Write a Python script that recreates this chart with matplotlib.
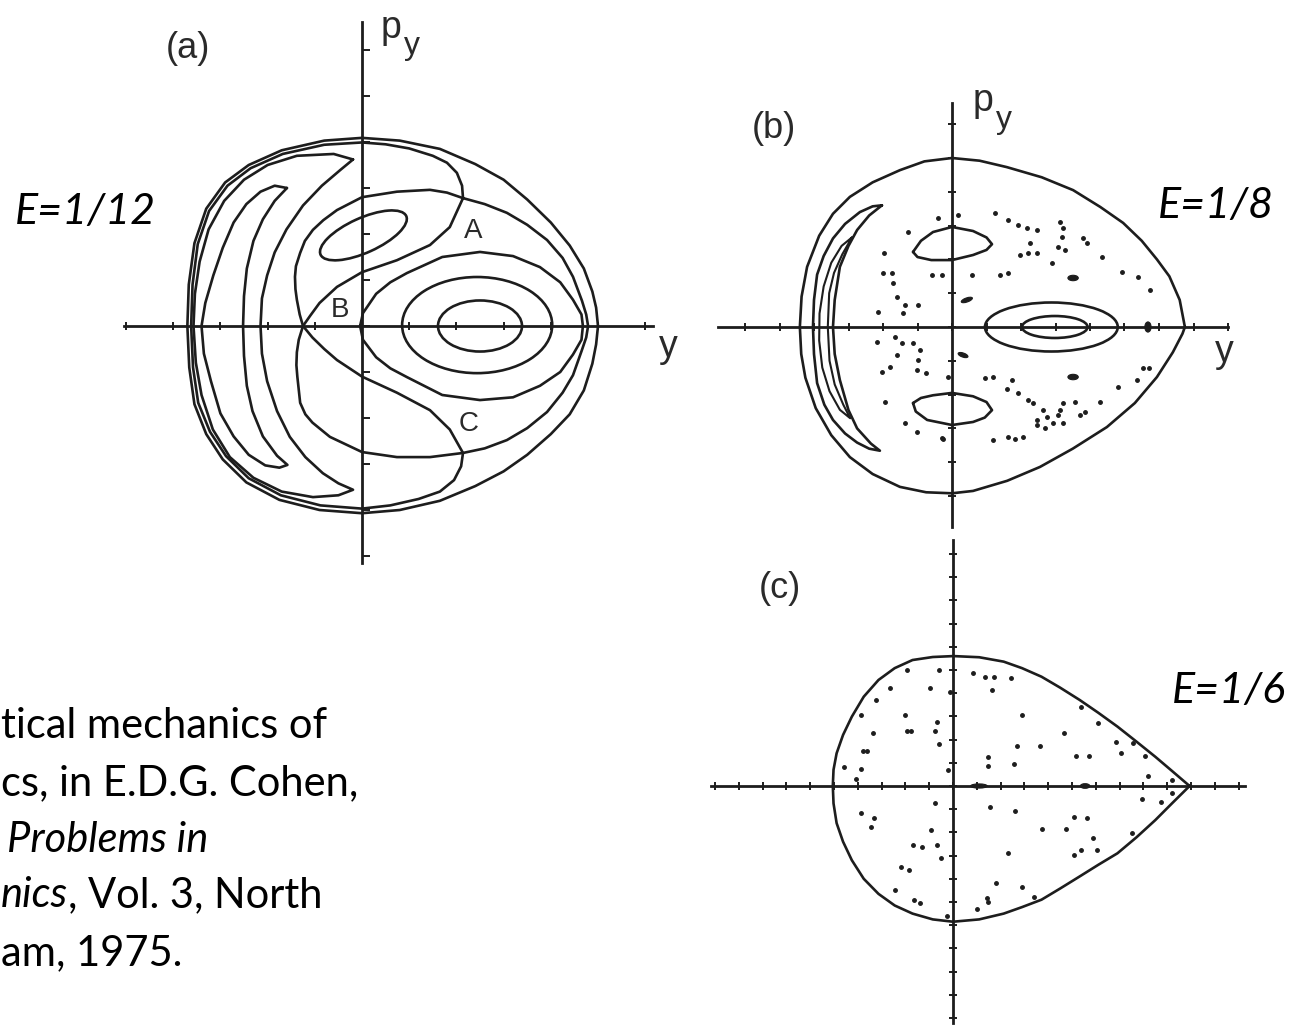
import numpy as np
import matplotlib.pyplot as plt
from matplotlib.patches import Ellipse

W, H = 1292, 1026
INK = '#1d1d1d'

# ---------------- (a)  E = 1/12 ----------------
a_boundary = [(0.500, 0.000), (0.496, 0.040), (0.488, 0.075), (0.470, 0.125), (0.440, 0.175),
              (0.400, 0.225), (0.350, 0.275), (0.300, 0.318), (0.240, 0.352), (0.165, 0.385),
              (0.080, 0.403), (0.000, 0.409), (-0.080, 0.403), (-0.170, 0.382), (-0.240, 0.350),
              (-0.290, 0.312), (-0.330, 0.255), (-0.355, 0.180), (-0.367, 0.090), (-0.370, 0.000),
              (-0.366, -0.090), (-0.355, -0.170), (-0.330, -0.235), (-0.295, -0.290), (-0.245, -0.340),
              (-0.175, -0.378), (-0.090, -0.400), (0.000, -0.407), (0.080, -0.400), (0.165, -0.380),
              (0.240, -0.348), (0.300, -0.316), (0.350, -0.280), (0.400, -0.235), (0.440, -0.192),
              (0.470, -0.140), (0.488, -0.082), (0.496, -0.040)]
# separatrix loop A -> top -> left -> bottom -> C -> right -> A
a_loop = [(0.214, 0.278), (0.212, 0.305), (0.201, 0.333), (0.180, 0.355), (0.150, 0.370),
          (0.100, 0.386), (0.050, 0.395), (0.000, 0.399), (-0.080, 0.394), (-0.168, 0.374),
          (-0.236, 0.343), (-0.285, 0.305), (-0.324, 0.250), (-0.348, 0.178), (-0.359, 0.090),
          (-0.362, 0.000), (-0.358, -0.090), (-0.347, -0.167), (-0.322, -0.230), (-0.288, -0.283),
          (-0.240, -0.331), (-0.172, -0.368), (-0.088, -0.390), (0.000, -0.397), (0.060, -0.390),
          (0.120, -0.376), (0.165, -0.360), (0.195, -0.335), (0.210, -0.305), (0.214, -0.276),
          (0.260, -0.266), (0.307, -0.248), (0.350, -0.222), (0.392, -0.187), (0.425, -0.145),
          (0.447, -0.107), (0.465, -0.055), (0.475, -0.025), (0.479, 0.000), (0.475, 0.025),
          (0.466, 0.055), (0.447, 0.107), (0.425, 0.148), (0.392, 0.187), (0.350, 0.220),
          (0.307, 0.246), (0.260, 0.265)]
a_crescent_outer = [(-0.019, 0.362), (-0.060, 0.374), (-0.138, 0.370), (-0.200, 0.350), (-0.250, 0.318),
                    (-0.292, 0.272), (-0.325, 0.210), (-0.344, 0.140), (-0.354, 0.070), (-0.357, 0.000),
                    (-0.352, -0.080), (-0.340, -0.150), (-0.316, -0.225), (-0.280, -0.285), (-0.230, -0.330),
                    (-0.170, -0.360), (-0.104, -0.372), (-0.050, -0.368), (-0.019, -0.356), (-0.050, -0.342),
                    (-0.083, -0.320), (-0.120, -0.285), (-0.153, -0.241), (-0.180, -0.185), (-0.201, -0.120),
                    (-0.212, -0.060), (-0.215, 0.000), (-0.212, 0.060), (-0.201, 0.110), (-0.185, 0.160),
                    (-0.160, 0.210), (-0.125, 0.262), (-0.085, 0.305), (-0.045, 0.340)]
a_crescent_inner = [(-0.159, 0.300), (-0.185, 0.305), (-0.215, 0.292), (-0.245, 0.265), (-0.272, 0.225),
                    (-0.295, 0.170), (-0.315, 0.110), (-0.332, 0.050), (-0.340, 0.000), (-0.335, -0.060),
                    (-0.320, -0.120), (-0.300, -0.190), (-0.272, -0.240), (-0.240, -0.280), (-0.205, -0.303),
                    (-0.175, -0.308), (-0.158, -0.302), (-0.180, -0.282), (-0.210, -0.240), (-0.232, -0.185),
                    (-0.244, -0.130), (-0.250, -0.065), (-0.252, 0.000), (-0.250, 0.065), (-0.244, 0.125),
                    (-0.230, 0.185), (-0.210, 0.232), (-0.185, 0.272)]
# two branches A -> B -> C crossing at B
a_branch_1 = [(0.214, 0.278), (0.180, 0.290), (0.144, 0.296), (0.074, 0.292), (0.000, 0.280),
              (-0.053, 0.252), (-0.082, 0.230), (-0.104, 0.209), (-0.121, 0.185), (-0.131, 0.159),
              (-0.140, 0.130), (-0.142, 0.107), (-0.141, 0.080), (-0.138, 0.057), (-0.132, 0.025),
              (-0.125, 0.000), (-0.105, -0.025), (-0.080, -0.050), (-0.053, -0.074), (0.000, -0.110),
              (0.074, -0.145), (0.144, -0.183), (0.186, -0.225), (0.214, -0.276)]
a_branch_2 = [(0.214, 0.278), (0.186, 0.215), (0.144, 0.176), (0.074, 0.143), (0.000, 0.117),
              (-0.053, 0.085), (-0.090, 0.050), (-0.110, 0.022), (-0.125, 0.000), (-0.134, -0.030),
              (-0.138, -0.057), (-0.139, -0.085), (-0.137, -0.110), (-0.131, -0.167), (-0.120, -0.192),
              (-0.105, -0.210), (-0.068, -0.241), (0.000, -0.274), (0.074, -0.285), (0.144, -0.285),
              (0.214, -0.276)]
a_inner_orbit = [(-0.004, 0.000), (0.002, 0.028), (0.030, 0.070), (0.060, 0.095), (0.095, 0.115),
                 (0.170, 0.150), (0.250, 0.161), (0.320, 0.152), (0.377, 0.128), (0.420, 0.095),
                 (0.447, 0.057), (0.465, 0.025), (0.468, 0.000), (0.465, -0.030), (0.447, -0.062),
                 (0.420, -0.100), (0.377, -0.130), (0.320, -0.155), (0.250, -0.161), (0.170, -0.150),
                 (0.095, -0.111), (0.060, -0.092), (0.030, -0.068), (0.002, -0.030)]
# islands: centre y, centre p_y, width, height, tilt (deg)
a_islands = [(0.244, 0.002, 0.318, 0.209, 0), (0.250, 0.000, 0.178, 0.111, 0),
             (0.003, 0.197, 0.200, 0.075, 25)]

# ---------------- (b)  E = 1/8 ----------------
b_boundary = [(0.675, 0.000), (0.660, 0.080), (0.630, 0.150), (0.594, 0.200), (0.550, 0.255),
              (0.496, 0.308), (0.430, 0.355), (0.351, 0.405), (0.260, 0.443), (0.159, 0.473),
              (0.080, 0.492), (0.000, 0.500), (-0.080, 0.490), (-0.151, 0.464), (-0.230, 0.428),
              (-0.296, 0.385), (-0.345, 0.335), (-0.385, 0.270), (-0.420, 0.178), (-0.436, 0.090),
              (-0.441, 0.000), (-0.437, -0.080), (-0.425, -0.150), (-0.395, -0.240), (-0.350, -0.320),
              (-0.296, -0.385), (-0.230, -0.435), (-0.151, -0.473), (-0.075, -0.489), (0.000, -0.492),
              (0.061, -0.485), (0.160, -0.455), (0.255, -0.414), (0.350, -0.360), (0.449, -0.296),
              (0.530, -0.225), (0.594, -0.148), (0.640, -0.075), (0.668, -0.020)]
b_crescent_outer = [(-0.203, 0.360), (-0.230, 0.357), (-0.267, 0.340), (-0.310, 0.305), (-0.345, 0.262),
                    (-0.372, 0.210), (-0.391, 0.155), (-0.400, 0.080), (-0.403, 0.000), (-0.400, -0.080),
                    (-0.391, -0.166), (-0.370, -0.230), (-0.345, -0.275), (-0.310, -0.315), (-0.275, -0.342),
                    (-0.240, -0.360), (-0.209, -0.366), (-0.235, -0.345), (-0.275, -0.300), (-0.300, -0.246),
                    (-0.325, -0.157), (-0.340, -0.080), (-0.345, 0.000), (-0.340, 0.080), (-0.325, 0.178),
                    (-0.300, 0.240), (-0.275, 0.287), (-0.240, 0.330)]
b_crescent_inner = [(-0.290, 0.265), (-0.320, 0.240), (-0.350, 0.190), (-0.372, 0.120), (-0.384, 0.040),
                    (-0.385, -0.040), (-0.376, -0.120), (-0.355, -0.190), (-0.325, -0.245), (-0.295, -0.270),
                    (-0.315, -0.230), (-0.340, -0.170), (-0.355, -0.100), (-0.360, 0.000), (-0.356, 0.100),
                    (-0.342, 0.160), (-0.318, 0.215)]
b_lens_upper = [(-0.113, 0.222), (-0.090, 0.255), (-0.055, 0.281), (0.000, 0.296), (0.061, 0.284),
                (0.100, 0.265), (0.116, 0.245), (0.100, 0.228), (0.061, 0.213), (0.000, 0.198),
                (-0.060, 0.198), (-0.100, 0.207)]
b_lens_lower = [(-0.113, -0.225), (-0.090, -0.210), (-0.055, -0.202), (0.000, -0.195), (0.061, -0.205),
                (0.100, -0.222), (0.116, -0.246), (0.095, -0.268), (0.061, -0.281), (0.000, -0.290),
                (-0.072, -0.275), (-0.105, -0.250)]
b_islands = [(0.288, 0.000, 0.385, 0.145, 0), (0.298, 0.000, 0.190, 0.065, 0)]
b_blobs = [(0.351, 0.145, 0.030, 0.016, 0), (0.351, -0.148, 0.030, 0.016, 0), (0.568, 0.000, 0.018, 0.030, 0),
           (0.043, 0.080, 0.034, 0.012, 20), (0.032, -0.083, 0.030, 0.012, -20)]
b_dots_y = [-0.041, 0.017, 0.125, -0.128, -0.197, -0.200, -0.174, -0.171, -0.159, -0.136, -0.099, -0.214,
            -0.058, -0.029, 0.058, -0.142, 0.162, 0.191, 0.217, 0.246, 0.313, 0.322, 0.319, 0.226, 0.197,
            0.220, 0.246, 0.307, 0.328, 0.380, 0.391, 0.435, 0.290, 0.139, 0.162, 0.493, 0.539, 0.574,
            -0.217, -0.165, -0.145, -0.113, -0.093, -0.159, -0.099, -0.180, -0.203, -0.101, -0.075, -0.012,
            -0.194, -0.136, -0.101, -0.029, 0.096, 0.119, 0.174, 0.159, 0.191, 0.220, 0.235, 0.264, 0.275,
            0.246, 0.246, 0.270, 0.293, 0.307, 0.313, 0.322, 0.322, 0.357, 0.371, 0.386, 0.429, 0.481,
            0.536, 0.554, 0.571, 0.119, 0.162, 0.183, 0.206, -0.026]
b_dots_py = [0.322, 0.331, 0.337, 0.281, 0.219, 0.160, 0.160, 0.130, 0.089, 0.065, 0.065, 0.044,
             0.154, 0.154, 0.154, 0.041, 0.317, 0.302, 0.293, 0.287, 0.311, 0.293, 0.266, 0.249, 0.213,
             0.219, 0.219, 0.237, 0.228, 0.263, 0.249, 0.207, 0.189, 0.154, 0.160, 0.163, 0.148, 0.109,
             -0.044, -0.030, -0.047, -0.047, -0.068, -0.083, -0.098, -0.118, -0.133, -0.127, -0.136, -0.148,
             -0.222, -0.284, -0.311, -0.328, -0.151, -0.148, -0.157, -0.183, -0.195, -0.216, -0.225, -0.246,
             -0.266, -0.275, -0.290, -0.299, -0.284, -0.260, -0.246, -0.225, -0.284, -0.222, -0.260, -0.251,
             -0.222, -0.178, -0.157, -0.121, -0.121, -0.334, -0.325, -0.331, -0.325, -0.331]

# ---------------- (c)  E = 1/6 ----------------
c_boundary = [(0.994, 0.000), (0.920, 0.065), (0.850, 0.126), (0.770, 0.192), (0.691, 0.256),
              (0.610, 0.316), (0.532, 0.371), (0.450, 0.424), (0.372, 0.471), (0.290, 0.508),
              (0.213, 0.536), (0.110, 0.555), (0.002, 0.560), (-0.085, 0.556), (-0.170, 0.543),
              (-0.245, 0.508), (-0.313, 0.457), (-0.375, 0.385), (-0.425, 0.299), (-0.462, 0.220),
              (-0.489, 0.141), (-0.502, 0.070), (-0.505, 0.000), (-0.502, -0.075), (-0.489, -0.160),
              (-0.462, -0.240), (-0.425, -0.320), (-0.375, -0.400), (-0.313, -0.465), (-0.245, -0.515),
              (-0.170, -0.550), (-0.085, -0.575), (0.000, -0.585), (0.110, -0.575), (0.213, -0.550),
              (0.290, -0.522), (0.372, -0.490), (0.450, -0.442), (0.532, -0.390), (0.610, -0.340),
              (0.691, -0.290), (0.770, -0.222), (0.850, -0.147), (0.920, -0.075)]
c_blobs = [(0.109, 0.000, 0.070, 0.018, 0), (0.555, 0.000, 0.040, 0.020, 0)]
c_dots_y = [-0.194, -0.059, 0.085, 0.133, 0.173, 0.244, 0.165, -0.266, -0.098, -0.011, -0.322, -0.385,
            -0.202, -0.066, -0.074, -0.194, -0.178, -0.338, 0.289, 0.468, 0.611, 0.539, 0.268, 0.364,
            0.683, 0.755, 0.704, 0.516, 0.571, 0.806, 0.149, 0.149, 0.257, -0.377, -0.361, -0.385,
            -0.457, -0.409, -0.059, -0.019, 0.819, 0.922,
            -0.074, 0.157, 0.260, 0.794, 0.874, 0.922, -0.385, -0.330, -0.346, -0.094, 0.372, 0.476,
            0.508, 0.563, 0.587, 0.603, 0.539, 0.508, 0.752, -0.170, -0.130, -0.066, -0.050, 0.229,
            -0.218, -0.186, -0.242, -0.162, -0.138, 0.141, 0.149, 0.181, 0.292, 0.340, 0.101, -0.027]
c_dots_py = [0.500, 0.500, 0.486, 0.468, 0.468, 0.464, 0.414, 0.421, 0.421, 0.407, 0.371, 0.306,
             0.306, 0.277, 0.238, 0.238, 0.238, 0.230, 0.306, 0.230, 0.273, 0.342, 0.172, 0.172,
             0.191, 0.187, 0.141, 0.129, 0.129, 0.129, 0.126, 0.086, 0.095, 0.152, 0.152, 0.072,
             0.080, 0.029, 0.181, 0.069, 0.043, 0.026,
             -0.072, -0.092, -0.106, -0.057, -0.067, -0.032, -0.118, -0.139, -0.175, -0.190, -0.187, -0.187,
             -0.132, -0.139, -0.226, -0.276, -0.276, -0.297, -0.204, -0.254, -0.261, -0.254, -0.312, -0.290,
             -0.348, -0.362, -0.448, -0.491, -0.506, -0.484, -0.498, -0.420, -0.434, -0.477, -0.532, -0.560]

fig = plt.figure(figsize=(W / 100, H / 100), dpi=100)


def add_panel(origin, scale, box, xspan, yspan, xticks, yticks, ytick_dir='inout'):
    # origin: pixel where y = p_y = 0; box: (left, top, right, bottom) in pixels
    x0, y0 = origin
    sx, sy = scale
    l, t, r, b = box
    ax = fig.add_axes([l / W, 1 - b / H, (r - l) / W, (b - t) / H])
    ax.set_xlim((l - x0) / sx, (r - x0) / sx)
    ax.set_ylim((y0 - b) / sy, (y0 - t) / sy)
    ax.patch.set_visible(False)
    for s in ('top', 'right'):
        ax.spines[s].set_visible(False)
    for s in ('left', 'bottom'):
        ax.spines[s].set_position(('data', 0))
        ax.spines[s].set_linewidth(2.0)
        ax.spines[s].set_color(INK)
    ax.spines['bottom'].set_bounds(*xspan)
    ax.spines['left'].set_bounds(*yspan)
    ax.set_xticks(xticks)
    ax.set_yticks(yticks)
    ax.tick_params(direction='inout', length=6, width=1.4, color=INK,
                   labelbottom=False, labelleft=False)
    ax.tick_params(axis='y', direction=ytick_dir)
    return ax


def curve(ax, pts, closed=True, lw=1.9):
    arr = np.array(pts)
    if closed:
        arr = np.vstack([arr, arr[:1]])
    ax.plot(arr[:, 0], arr[:, 1], color=INK, lw=lw, solid_joinstyle='round',
            solid_capstyle='round', clip_on=False)


def ovals(ax, specs, filled=False, lw=1.9):
    for cy, cp, w, h, ang in specs:
        ax.add_patch(Ellipse((cy, cp), w, h, angle=ang, fill=filled, facecolor=INK,
                             edgecolor=INK, lw=lw, clip_on=False))


LAB = dict(family='Liberation Sans', color='#2a2a2a', ha='center', va='center')


def axis_names(ax, p_at, sub_at, y_at):
    ax.text(*p_at, 'p', fontsize=27, **LAB)
    ax.text(*sub_at, 'y', fontsize=23, **LAB)
    ax.text(*y_at, 'y', fontsize=27, **LAB)


# panel (a)
ax_a = add_panel((362, 326), (472, 460), (100, 0, 700, 600), (-0.504, 0.617), (-0.515, 0.661),
                 np.arange(-0.5, 0.61, 0.1), np.arange(-0.5, 0.61, 0.1), ytick_dir='in')
curve(ax_a, a_boundary)
curve(ax_a, a_loop)
curve(ax_a, a_crescent_outer)
curve(ax_a, a_crescent_inner)
curve(ax_a, a_branch_1, closed=False)
curve(ax_a, a_branch_2, closed=False)
curve(ax_a, a_inner_orbit)
ovals(ax_a, a_islands)
axis_names(ax_a, (0.061, 0.648), (0.106, 0.609), (0.648, -0.046))
ax_a.text(-0.369, 0.604, '(a)', fontsize=26, **LAB)
for name, pos in (('A', (0.235, 0.207)), ('B', (-0.047, 0.035)), ('C', (0.225, -0.213))):
    ax_a.text(*pos, name, fontsize=20, **LAB)

# panel (b)
ax_b = add_panel((952, 327), (345, 338), (700, 60, 1292, 540), (-0.678, 0.800), (-0.592, 0.663),
                 np.arange(-0.6, 0.81, 0.1), np.arange(-0.5, 0.61, 0.1))
curve(ax_b, b_boundary)
curve(ax_b, b_crescent_outer)
curve(ax_b, b_crescent_inner, lw=1.5)
curve(ax_b, b_lens_upper)
curve(ax_b, b_lens_lower)
ovals(ax_b, b_islands)
ovals(ax_b, b_blobs, filled=True, lw=0.8)
ax_b.plot(b_dots_y, b_dots_py, 'o', ms=2.5, color=INK, clip_on=False)
axis_names(ax_b, (0.090, 0.669), (0.151, 0.612), (0.788, -0.074))
ax_b.text(-0.516, 0.586, '(b)', fontsize=26, **LAB)

# panel (c)
ax_c = add_panel((953, 786), (238, 232), (700, 540, 1292, 1026), (-1.017, 1.227), (-1.022, 1.060),
                 np.arange(-1.0, 1.21, 0.1), np.arange(-1.0, 1.01, 0.1))
curve(ax_c, c_boundary)
ovals(ax_c, c_blobs, filled=True, lw=0.8)
ax_c.plot(c_dots_y, c_dots_py, 'o', ms=2.5, color=INK, clip_on=False)
ax_c.text(-0.727, 0.853, '(c)', fontsize=26, **LAB)

# energy labels
e_style = dict(family='Lato', style='italic', fontsize=31, color='black', va='baseline')
fig.text(156 / W, 1 - 224 / H, 'E=1/12', ha='right', **e_style)
fig.text(1158 / W, 1 - 218 / H, 'E=1/8', ha='left', **e_style)
fig.text(1172 / W, 1 - 703 / H, 'E=1/6', ha='left', **e_style)

# citation fragment, lower left
ref = dict(family='Lato', fontsize=30, color='black', va='baseline')
fig.text(1 / W, 1 - 738 / H, 'tical mechanics of', ha='left', **ref)
fig.text(1 / W, 1 - 795 / H, 'cs, in E.D.G. Cohen,', ha='left', **ref)
fig.text(7 / W, 1 - 852 / H, 'Problems in', ha='left', style='italic', **ref)
t4 = fig.text(1 / W, 1 - 907 / H, 'nics', ha='left', style='italic', **ref)
tail = fig.text(0, 0, ', Vol. 3, North', ha='left', **ref)
fig.text(1 / W, 1 - 965 / H, 'am, 1975.', ha='left', **ref)

# place the upright tail of line 4 right after the italic part
renderer = fig.canvas.get_renderer()
bb = t4.get_window_extent(renderer)
tail.set_position((bb.x1 / W, 1 - 907 / H))

fig.savefig('out.png', dpi=100, facecolor='white')
